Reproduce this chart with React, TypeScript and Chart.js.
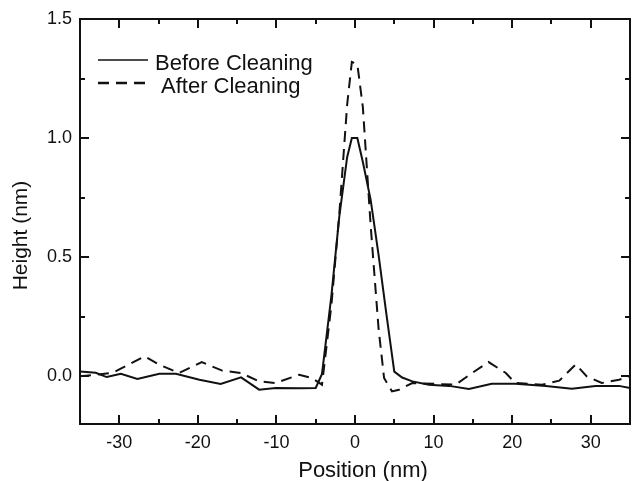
import React, { useEffect, useRef } from "react";
import { Chart, registerables } from "chart.js";

Chart.register(...registerables);

const beforeX = [-35, -33, -31.6, -29.8, -27.7, -24.9, -22.8, -19.8, -17.1, -14.5, -12.2, -10.1, -7, -5, -4.2, -3, -2, -1, -0.4, 0.3, 1, 2, 3, 4, 5, 6, 7.3, 9.4, 12, 14.5, 17.4, 20.4, 24.3, 27.6, 30.6, 33.6, 35];
const beforeY = [0.02, 0.015, -0.003, 0.011, -0.011, 0.011, 0.011, -0.014, -0.032, -0.004, -0.056, -0.049, -0.05, -0.049, 0.01, 0.34, 0.67, 0.92, 1.0, 1.0, 0.9, 0.74, 0.51, 0.26, 0.02, -0.005, -0.021, -0.035, -0.04, -0.053, -0.031, -0.031, -0.04, -0.052, -0.04, -0.04, -0.049];

const afterX = [-35, -30.9, -26.8, -24.9, -22.4, -19.5, -16.9, -14.5, -12.2, -10.1, -7.1, -5.5, -4.2, -3, -2, -1, -0.4, 0.3, 1, 2, 3, 3.7, 4.7, 5.6, 7.3, 12.8, 14.9, 17.0, 19.2, 20.4, 23.8, 26.0, 28.1, 29.5, 31.4, 33.6, 35];
const afterY = [0.0, 0.014, 0.084, 0.049, 0.014, 0.06, 0.024, 0.014, -0.021, -0.028, 0.007, -0.007, -0.035, 0.3, 0.68, 1.14, 1.32, 1.31, 1.13, 0.63, 0.2, -0.007, -0.063, -0.056, -0.028, -0.035, 0.014, 0.06, 0.014, -0.028, -0.035, -0.018, 0.05, 0.0, -0.028, -0.014, 0.0];

const xTicks = [-30, -20, -10, 0, 10, 20, 30];
const xMinorTicks = [-25, -15, -5, 5, 15, 25];
const yTicks = [0.0, 0.5, 1.0, 1.5];
const yMinorTicks = [0.25, 0.75, 1.25];

const seriesNames = ["Before Cleaning", "After Cleaning"];
const xTitle = "Position (nm)";
const yTitle = "Height (nm)";

const FONT = "'Liberation Sans', Arial, Helvetica, sans-serif";
const INK = "#111";

const frameTicksPlugin = {
  id: "frameTicks",
  afterDraw(chart: any) {
    const { ctx, chartArea } = chart;
    const { left, right, top, bottom } = chartArea;
    const xs = chart.scales.x;
    const ys = chart.scales.y;
    ctx.save();
    ctx.strokeStyle = INK;
    ctx.lineWidth = 2;
    ctx.setLineDash([]);
    ctx.strokeRect(left, top, right - left, bottom - top);
    const major = 9;
    const minor = 5;
    ctx.lineWidth = 2;
    const drawX = (v: number, len: number) => {
      const px = Math.round(xs.getPixelForValue(v));
      ctx.beginPath();
      ctx.moveTo(px, bottom);
      ctx.lineTo(px, bottom - len);
      ctx.moveTo(px, top);
      ctx.lineTo(px, top + len);
      ctx.stroke();
    };
    const drawY = (v: number, len: number) => {
      const py = Math.round(ys.getPixelForValue(v));
      ctx.beginPath();
      ctx.moveTo(left, py);
      ctx.lineTo(left + len, py);
      ctx.moveTo(right, py);
      ctx.lineTo(right - len, py);
      ctx.stroke();
    };
    xTicks.forEach((v) => drawX(v, major));
    xMinorTicks.forEach((v) => drawX(v, minor));
    yTicks.forEach((v) => drawY(v, major));
    yMinorTicks.forEach((v) => drawY(v, minor));

    // axis titles
    ctx.fillStyle = INK;
    ctx.font = `22px ${FONT}`;
    ctx.textAlign = "center";
    ctx.textBaseline = "alphabetic";
    ctx.fillText(xTitle, (left + right) / 2 + 8, 477);
    ctx.save();
    ctx.translate(27, (top + bottom) / 2 + 14);
    ctx.rotate(-Math.PI / 2);
    ctx.font = `21px ${FONT}`;
    ctx.fillText(yTitle, 0, 0);
    ctx.restore();

    // legend
    const ds = chart.data.datasets;
    const rows = [
      { y: 60, ty: 69.5, tx: 155 },
      { y: 83, ty: 92.5, tx: 161 },
    ];
    ds.forEach((d: any, i: number) => {
      const r = rows[i];
      ctx.strokeStyle = INK;
      ctx.lineWidth = i === 0 ? 1.5 : 2.5;
      ctx.setLineDash(d.borderDash || []);
      ctx.beginPath();
      ctx.moveTo(98, r.y);
      ctx.lineTo(148, r.y);
      ctx.stroke();
      ctx.setLineDash([]);
      ctx.font = `22px ${FONT}`;
      ctx.textAlign = "left";
      ctx.fillText(d.label, r.tx, r.ty);
    });
    ctx.restore();
  },
};

export default function App() {
  const ref = useRef<HTMLCanvasElement | null>(null);
  useEffect(() => {
    if (!ref.current) return;
    const chart = new Chart(ref.current, {
      type: "line",
      data: {
        datasets: [
          {
            label: seriesNames[0],
            data: beforeX.map((x, i) => ({ x, y: beforeY[i] })),
            borderColor: INK,
            borderWidth: 2,
            pointRadius: 0,
            fill: false,
            tension: 0,
          },
          {
            label: seriesNames[1],
            data: afterX.map((x, i) => ({ x, y: afterY[i] })),
            borderColor: INK,
            borderWidth: 2,
            borderDash: [11, 7],
            pointRadius: 0,
            fill: false,
            tension: 0,
          },
        ],
      },
      options: {
        animation: false,
        responsive: false,
        devicePixelRatio: 1,
        layout: { padding: { top: 19, right: 4, left: 0, bottom: 0 } },
        plugins: { legend: { display: false }, tooltip: { enabled: false } },
        scales: {
          x: {
            type: "linear",
            min: -35,
            max: 35,
            afterBuildTicks: (s: any) => {
              s.ticks = xTicks.map((v) => ({ value: v }));
            },
            afterFit: (s: any) => {
              s.height = 57;
            },
            ticks: {
              font: { family: FONT, size: 18 },
              color: INK,
              padding: 8,
              maxRotation: 0,
              autoSkip: false,
              callback: (v: any) => String(v),
            },
            grid: { display: false, drawTicks: false },
            border: { display: false },
          },
          y: {
            type: "linear",
            min: -0.2,
            max: 1.5,
            afterBuildTicks: (s: any) => {
              s.ticks = yTicks.map((v) => ({ value: v }));
            },
            afterFit: (s: any) => {
              s.width = 80;
            },
            ticks: {
              font: { family: FONT, size: 18 },
              color: INK,
              padding: 8,
              autoSkip: false,
              callback: (v: any) => Number(v).toFixed(1),
            },
            grid: { display: false, drawTicks: false },
            border: { display: false },
          },
        },
      },
      plugins: [frameTicksPlugin],
    });
    return () => chart.destroy();
  }, []);
  return (
    <div style={{ position: "absolute", left: 0, top: 0, width: 634, height: 481, background: "#fff" }}>
      <canvas ref={ref} width={634} height={481} />
    </div>
  );
}
